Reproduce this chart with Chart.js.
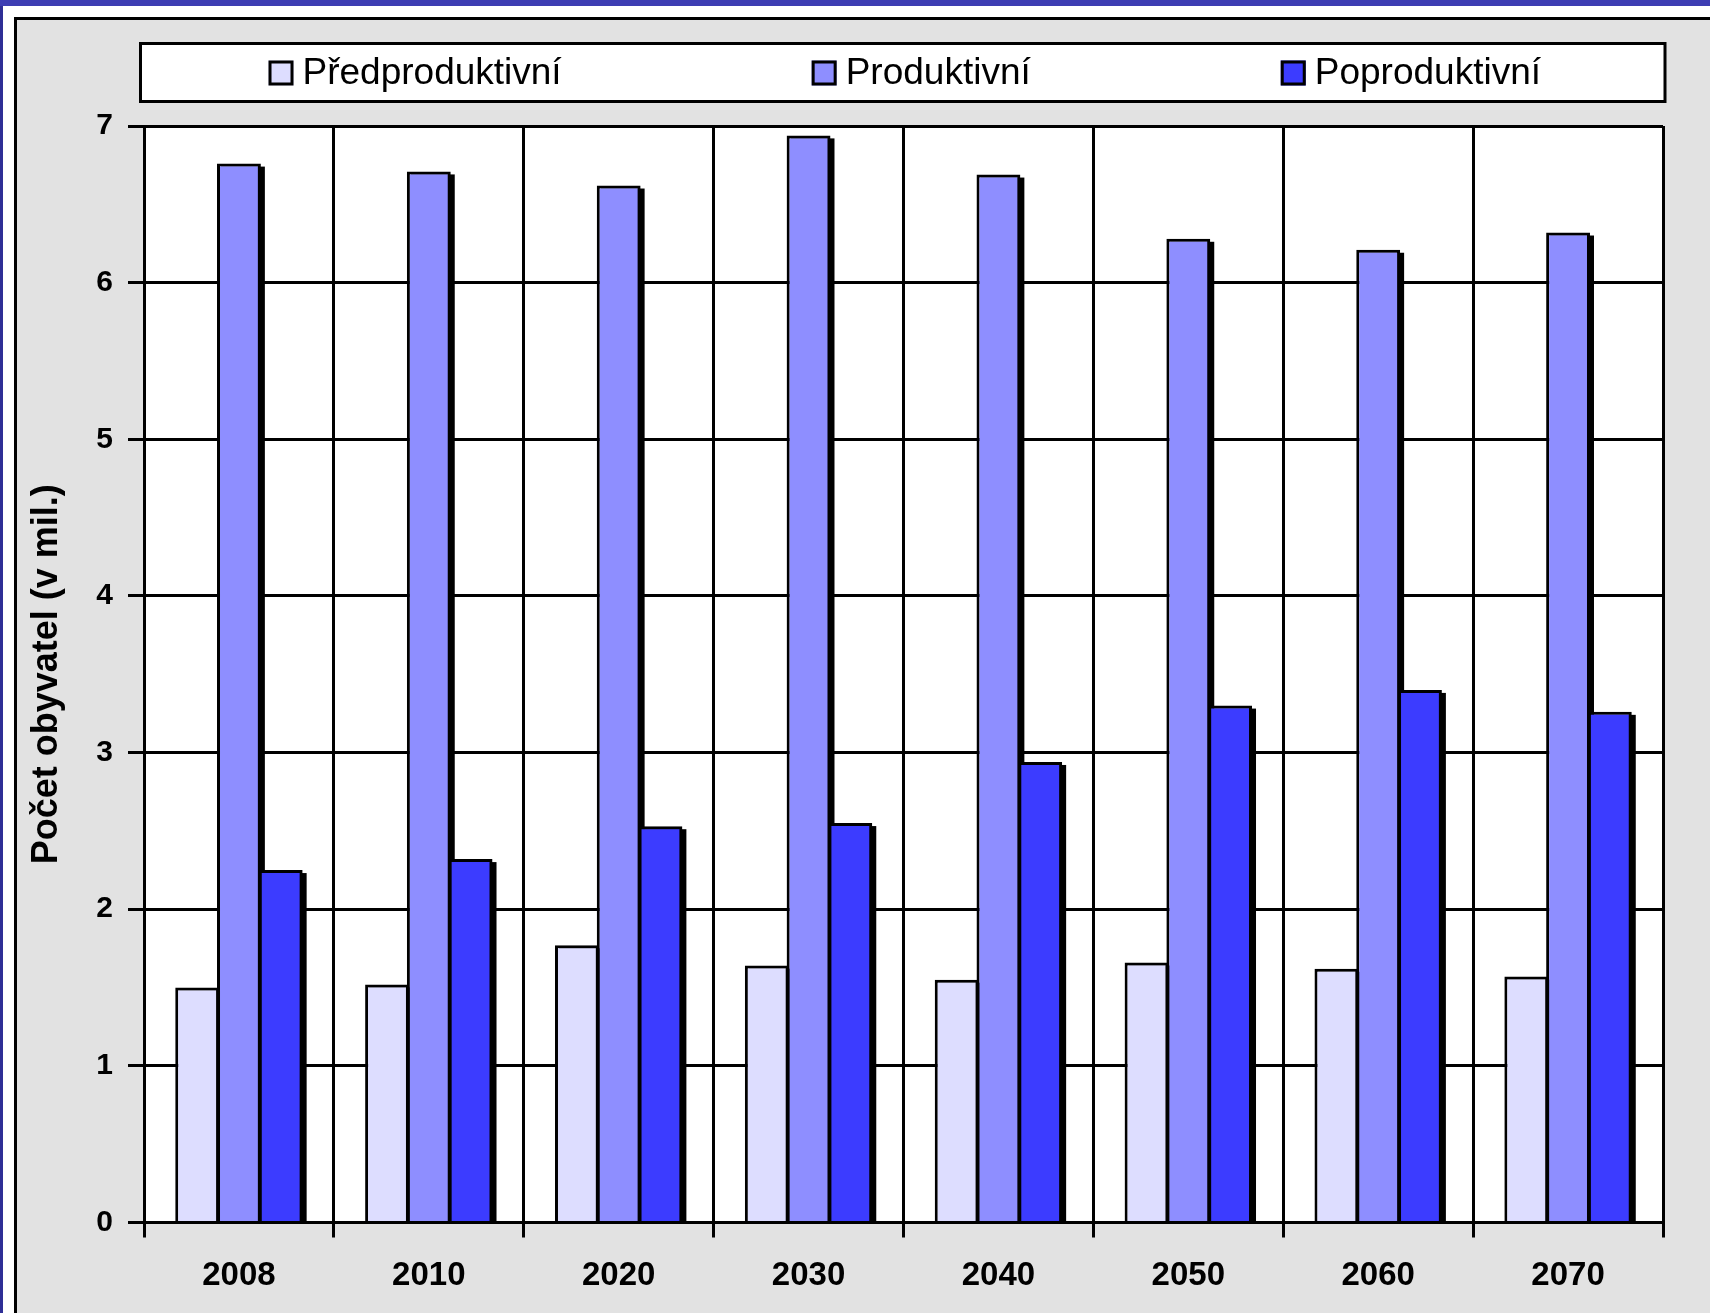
<!DOCTYPE html>
<html><head><meta charset="utf-8">
<script src="https://cdn.jsdelivr.net/npm/chart.js@4/dist/chart.umd.min.js"></script>
<style>html,body{margin:0;padding:0;background:#fff;overflow:hidden}canvas{display:block}</style>
</head><body>
<canvas id="c" width="1710" height="1313" style="width:1710px;height:1313px"></canvas>
<script>
const categories = ['2008', '2010', '2020', '2030', '2040', '2050', '2060', '2070'];
const seriesNames = ['Předproduktivní', 'Produktivní', 'Poproduktivní'];
const predproduktivni = [1.50, 1.52, 1.77, 1.64, 1.55, 1.66, 1.62, 1.57];
const produktivni = [6.76, 6.71, 6.62, 6.94, 6.69, 6.28, 6.21, 6.32];
const poproduktivni = [2.25, 2.32, 2.53, 2.55, 2.94, 3.30, 3.40, 3.26];
const yTicks = [0, 1, 2, 3, 4, 5, 6, 7];
const yTitle = 'Počet obyvatel (v mil.)';
const seriesColors = ['#DDDDFF', '#8E8EFF', '#3C3CFF'];

const FAMILY = '"Liberation Sans", Arial, sans-serif';

const backgroundPlugin = {
  id: 'frameBg',
  beforeDraw(chart) {
    const ctx = chart.ctx, W = chart.width, H = chart.height, a = chart.chartArea;
    ctx.save();
    ctx.fillStyle = '#3d3db3';
    ctx.fillRect(0, 0, W, H);
    ctx.fillStyle = '#2f2f96';
    ctx.fillRect(0, 6, 3, H);
    ctx.fillStyle = '#ffffff';
    ctx.fillRect(3, 6, W, H);
    ctx.fillStyle = '#000000';
    ctx.fillRect(14, 17, W, 3);
    ctx.fillRect(14, 17, 3, H);
    ctx.fillStyle = '#e2e2e2';
    ctx.fillRect(17, 20, W, H);
    ctx.fillStyle = '#ffffff';
    ctx.fillRect(a.left, a.top, a.right - a.left, a.bottom - a.top);
    ctx.restore();
  }
};

const legendBoxPlugin = {
  id: 'legendBox',
  beforeDraw(chart) {
    const ctx = chart.ctx;
    const bx = 140.5, by = 43.5, bw = 1524.5, bh = 58;
    ctx.save();
    ctx.fillStyle = '#ffffff';
    ctx.fillRect(bx, by, bw, bh);
    ctx.lineWidth = 3;
    ctx.strokeStyle = '#000';
    ctx.strokeRect(bx, by, bw, bh);
    ctx.font = '37px ' + FAMILY;
    ctx.textBaseline = 'middle';
    ctx.textAlign = 'left';
    const box = 25, gap = 9, between = 250;
    const widths = chart.data.datasets.map(d => box + gap + ctx.measureText(d.label).width);
    const total = widths.reduce((a, b) => a + b, 0) + between * (widths.length - 1);
    let x = bx + bw / 2 - total / 2 + 2;
    const cy = by + bh / 2 + 0.5;
    chart.data.datasets.forEach((d, i) => {
      ctx.fillStyle = d.backgroundColor;
      ctx.fillRect(x, cy - box / 2, box, box);
      ctx.lineWidth = 3;
      ctx.strokeStyle = '#000';
      ctx.strokeRect(x + 1.5, cy - box / 2 + 1.5, box - 3, box - 3);
      ctx.fillStyle = '#000';
      ctx.fillText(d.label, x + box + gap, cy + 1);
      x += widths[i] + between;
    });
    ctx.restore();
  }
};

const shadowPlugin = {
  id: 'barShadow',
  beforeDatasetsDraw(chart) {
    const ctx = chart.ctx, a = chart.chartArea;
    ctx.save();
    ctx.beginPath();
    ctx.rect(a.left, a.top, a.right - a.left + 8, a.bottom - a.top);
    ctx.clip();
    ctx.fillStyle = '#000';
    chart.data.datasets.forEach((ds, i) => {
      chart.getDatasetMeta(i).data.forEach(bar => {
        const p = bar.getProps(['x', 'y', 'base', 'width'], true);
        const left = p.x - p.width / 2 + 4;
        const top = p.y + 3;
        ctx.fillRect(left, top, p.width, p.base - top);
      });
    });
    ctx.restore();
  }
};

const datasets = [predproduktivni, produktivni, poproduktivni].map((vals, i) => ({
  label: seriesNames[i],
  data: vals,
  backgroundColor: seriesColors[i],
  borderColor: '#000',
  borderWidth: 3,
  barPercentage: 1.05,
  categoryPercentage: 0.66
}));

new Chart(document.getElementById('c'), {
  type: 'bar',
  data: { labels: categories, datasets },
  plugins: [backgroundPlugin, legendBoxPlugin, shadowPlugin],
  options: {
    responsive: false,
    devicePixelRatio: 1,
    animation: false,
    layout: { padding: { top: 126, right: 47, left: 0, bottom: 0 } },
    plugins: { legend: { display: false }, tooltip: { enabled: false } },
    scales: {
      x: {
        offset: true,
        grid: { display: true, offset: true, color: '#000', lineWidth: 3, drawTicks: true, tickLength: 15, tickColor: '#000', tickWidth: 3 },
        border: { display: true, color: '#000', width: 3 },
        ticks: { color: '#000', font: { family: FAMILY, size: 33, weight: 'bold' }, padding: 19, maxRotation: 0, autoSkip: false },
        afterFit(s) { s.height = 90.5; }
      },
      y: {
        min: yTicks[0],
        max: yTicks[yTicks.length - 1],
        grid: { color: '#000', lineWidth: 3, drawTicks: true, tickLength: 16, tickColor: '#000', tickWidth: 3 },
        border: { display: true, color: '#000', width: 3 },
        ticks: { stepSize: 1, color: '#000', font: { family: FAMILY, size: 30, weight: 'bold' }, padding: 15 },
        title: { display: true, text: yTitle, color: '#000', font: { family: FAMILY, size: 36, weight: 'bold' }, padding: { top: 25, bottom: 0 } },
        afterFit(s) { s.width = 144; }
      }
    }
  }
});
</script>
</body></html>
